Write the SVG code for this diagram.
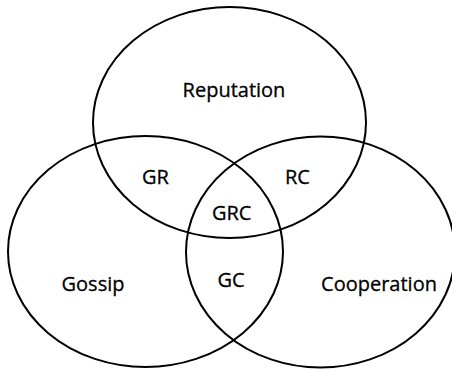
<svg xmlns="http://www.w3.org/2000/svg" width="452" height="370" viewBox="0 0 452 370">
<style>
.set{fill:none;stroke:#000;stroke-width:2}
.lbl{font-family:"Open Sans","Liberation Sans",sans-serif;font-size:20px;fill:#000;stroke:#000;stroke-width:0.3;text-anchor:middle}
</style>
<rect width="452" height="370" fill="#fff"/>
<g id="connectors"></g>
<g id="reputation">
<ellipse class="set" cx="229.5" cy="122.5" rx="136.5" ry="115.5"/>
<text class="lbl" x="234" y="97">Reputation</text>
</g>
<g id="gossip">
<ellipse class="set" cx="145.5" cy="251.5" rx="137.5" ry="115.5"/>
<text class="lbl" x="93" y="291">Gossip</text>
</g>
<g id="cooperation">
<ellipse class="set" cx="320.5" cy="252" rx="134.5" ry="115.5"/>
<text class="lbl" x="379" y="291">Cooperation</text>
</g>
<g id="gr"><text class="lbl" x="155.5" y="184">GR</text></g>
<g id="rc"><text class="lbl" x="297.5" y="184">RC</text></g>
<g id="grc"><text class="lbl" x="231.7" y="220">GRC</text></g>
<g id="gc"><text class="lbl" x="231" y="287">GC</text></g>
</svg>
